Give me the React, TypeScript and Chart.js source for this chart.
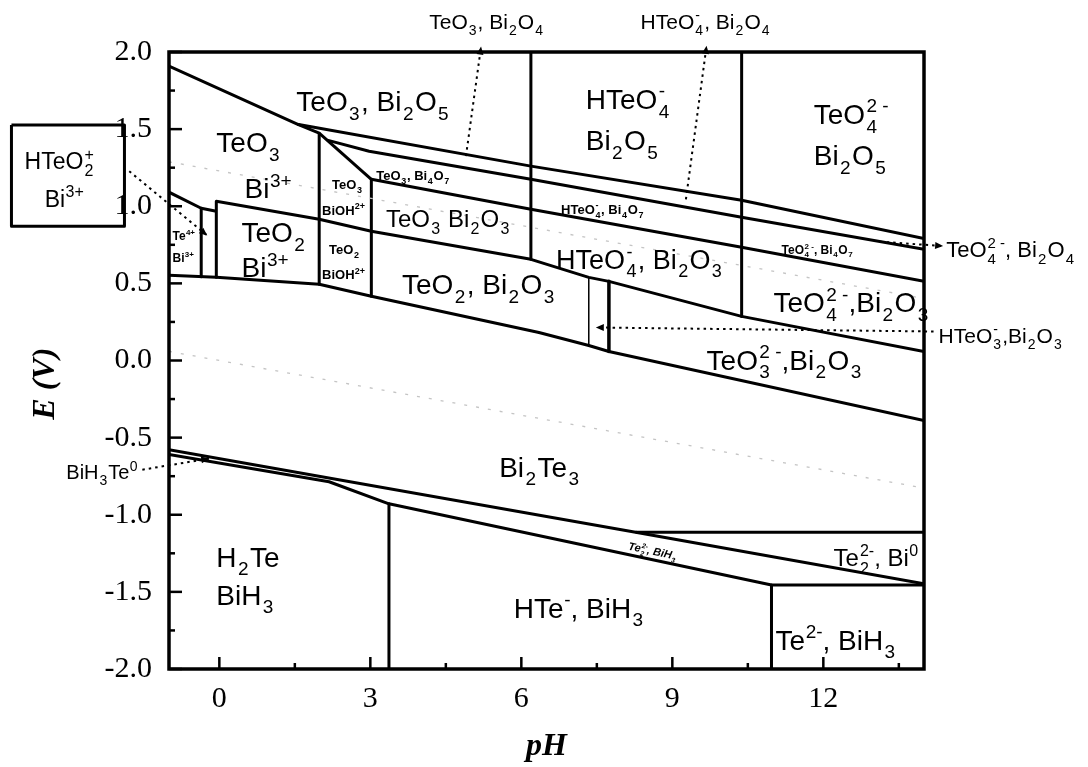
import React, { useEffect, useRef } from 'react';
import { Chart, registerables } from 'chart.js';

Chart.register(...registerables);

// ---------- axes ----------
const phMin = -1;
const phMax = 14;
const eMin = -2;
const eMax = 2;
const phTicks = [0, 1.5, 3, 4.5, 6, 7.5, 9, 10.5, 12, 13.5];
const eTicks = [-2, -1.75, -1.5, -1.25, -1, -0.75, -0.5, -0.25, 0, 0.25, 0.5, 0.75, 1, 1.25, 1.5, 1.75, 2];

// ---------- phase boundaries [pH, E] ----------
const bi5TopLine = [[-1, 1.909], [1.548, 1.532], [1.984, 1.474]];
const bi2o5Bi2o4Line = [[1.548, 1.532], [6.19, 1.26], [10.377, 1.039], [14, 0.79]];
const bi2o4Bi4o7Line = [[2.143, 1.429], [2.976, 1.357], [6.19, 1.175], [10.377, 0.929], [14, 0.721]];
const biohDiagonal = [[1.984, 1.474], [3.02, 1.175]];
const bi4o7Bi2o3Line = [[3.02, 1.175], [6.19, 0.981], [10.377, 0.734], [14, 0.513]];
const te6Te4Line = [[-0.06, 1.032], [1.984, 0.916], [3.02, 0.838], [6.19, 0.656], [7.34, 0.539], [7.74, 0.513], [10.377, 0.286], [14, 0.058]];
const te6Te4LeftLine = [[-1, 1.091], [-0.36, 0.987], [-0.06, 0.968]];
const te4Bi2Te3Line = [[-1, 0.552], [-0.06, 0.539], [1.984, 0.494], [3.02, 0.416], [6.35, 0.182], [7.34, 0.097], [7.74, 0.058], [14, -0.39]];
const bi2Te3LowerLine = [[-1, -0.578], [8.27, -1.113], [14, -1.448]];
const biH3UpperLine = [[-1, -0.61], [2.18, -0.786], [3.37, -0.929], [10.97, -1.455], [14, -1.455]];
const te2Bi0TopLine = [[8.27, -1.113], [14, -1.113]];

const vBiOHLeft = [[1.984, 1.474], [1.984, 0.494]];
const vBiOHRight = [[3.02, 1.175], [3.02, 0.416]];
const vHTeO2 = [[-0.36, 0.987], [-0.36, 0.543]];
const vTeO2 = [[-0.06, 1.032], [-0.06, 0.539]];
const vHTeO4 = [[6.19, 2], [6.19, 0.656]];
const vTeO4 = [[10.377, 2], [10.377, 0.286]];
const vHTeO3Left = [[7.34, 0.539], [7.34, 0.097]];
const vHTeO3Right = [[7.74, 0.513], [7.74, 0.058]];
const vHTe = [[3.37, -0.929], [3.37, -2]];
const vTe2 = [[10.97, -1.455], [10.97, -2]];

// ---------- water stability lines ----------
const oxygenLine = [[-1, 1.288], [14, 0.402]];
const hydrogenLine = [[-1, 0.059], [14, -0.827]];

// ---------- leader lines ----------
const leaderTeO3Bi2O4 = [[4.9, 1.325], [5.2, 2.035]];
const leaderHTeO4Bi2O4 = [[9.27, 1.045], [9.68, 2.04]];
const leaderTeO4Bi2O4 = [[13.13, 0.77], [14.38, 0.742]];
const leaderHTeO3Bi2O3 = [[14.19, 0.188], [7.48, 0.214]];
const leaderBiH3Te = [[-1.53, -0.708], [-0.2, -0.636]];
const leaderHTeO2 = [[-1.79, 1.227], [-0.24, 0.81]];
const boxHTeO2 = [[-4.13, 1.526], [-1.885, 1.526], [-1.885, 0.87], [-4.13, 0.87], [-4.13, 1.526]];

// ---------- labels: text, pH, E (cap centre), size, weight, rotation ----------
const regionLabels: [string, number, number, number, string?, number?][] = [
  ['TeO_3, Bi_2O_5', 1.53, 1.682, 28],
  ['HTeO_4^-', 7.28, 1.695, 28],
  ['Bi_2O_5', 7.28, 1.429, 28],
  ['TeO_4^{2 -}', 11.81, 1.597, 28],
  ['Bi_2O_5', 11.81, 1.331, 28],
  ['TeO_3', -0.06, 1.416, 28],
  ['Bi^{3+}', 0.5, 1.117, 28],
  ['TeO_2', 0.44, 0.831, 28],
  ['Bi^{3+}', 0.44, 0.604, 28],
  ['Te^{4+}', -0.93, 0.812, 12, 'bold'],
  ['Bi^{3+}', -0.93, 0.669, 12, 'bold'],
  ['TeO_3', 2.24, 1.143, 13, 'bold'],
  ['BiOH^{2+}', 2.04, 0.974, 13, 'bold'],
  ['TeO_2', 2.18, 0.721, 13, 'bold'],
  ['BiOH^{2+}', 2.04, 0.558, 13, 'bold'],
  ['TeO_3, Bi_4O_7', 3.12, 1.201, 13, 'bold'],
  ['TeO_3 Bi_2O_3', 3.31, 0.922, 24],
  ['HTeO_4^-, Bi_4O_7', 6.79, 0.981, 13, 'bold'],
  ['HTeO_4^-, Bi_2O_3', 6.69, 0.656, 27],
  ['TeO_2, Bi_2O_3', 3.63, 0.494, 28],
  ['TeO_4^{2 -}, Bi_4O_7', 11.17, 0.721, 12, 'bold'],
  ['TeO_4^{2 -},Bi_2O_3', 11.01, 0.377, 28],
  ['TeO_3^{2 -},Bi_2O_3', 9.68, 0.006, 28],
  ['Bi_2Te_3', 5.56, -0.688, 28],
  ['H_2Te', -0.06, -1.273, 28],
  ['BiH_3', -0.06, -1.519, 28],
  ['HTe^-, BiH_3', 5.85, -1.604, 28],
  ['Te^{2-}, BiH_3', 11.05, -1.812, 28],
  ['Te_2^{2-}, Bi^0', 12.2, -1.279, 24],
  ['Te_2^{2-}, BiH_3', 8.13, -1.2, 11, 'italic bold', 12],
  ['TeO_3, Bi_2O_4', 4.17, 2.201, 21],
  ['HTeO_4^-, Bi_2O_4', 8.37, 2.201, 21],
  ['TeO_4^{2 -}, Bi_2O_4', 14.44, 0.721, 22],
  ['HTeO_3^-,Bi_2O_3', 14.29, 0.162, 21],
  ['BiH_3Te^0', -3.04, -0.721, 20],
  ['HTeO_2^+', -3.87, 1.292, 23],
  ['Bi^{3+}', -3.47, 1.052, 23],
];

type Seg = { text: string; mode: number };
function parseRich(s: string): Seg[] {
  const out: Seg[] = [];
  let buf = '';
  let i = 0;
  const flush = () => {
    if (buf) out.push({ text: buf, mode: 0 });
    buf = '';
  };
  while (i < s.length) {
    const c = s[i];
    if (c === '_' || c === '^') {
      flush();
      let t = '';
      if (s[i + 1] === '{') {
        const j = s.indexOf('}', i + 2);
        t = s.slice(i + 2, j);
        i = j + 1;
      } else {
        t = s[i + 1];
        i += 2;
      }
      out.push({ text: t, mode: c === '_' ? 1 : 2 });
    } else {
      buf += c;
      i++;
    }
  }
  flush();
  return out;
}

function drawRich(ctx: CanvasRenderingContext2D, s: string, px: number, py: number, size: number, weight: string, rot: number) {
  ctx.save();
  ctx.translate(px, py);
  if (rot) ctx.rotate((rot * Math.PI) / 180);
  ctx.translate(0, 0.36 * size);
  ctx.fillStyle = '#000';
  ctx.textBaseline = 'alphabetic';
  ctx.textAlign = 'left';
  const big = `${weight} ${size}px "Liberation Sans", Arial, sans-serif`;
  const small = `${weight} ${Math.round(size * 0.68)}px "Liberation Sans", Arial, sans-serif`;
  let cx = 0;
  let subStart: number | null = null;
  for (const seg of parseRich(s)) {
    if (seg.mode === 0) {
      ctx.font = big;
      ctx.fillText(seg.text, cx, 0);
      cx += ctx.measureText(seg.text).width;
      subStart = null;
    } else if (seg.mode === 1) {
      ctx.font = small;
      const sx = cx + size * 0.05;
      ctx.fillText(seg.text, sx, size * 0.3);
      subStart = sx;
      cx = sx + ctx.measureText(seg.text).width + size * 0.05;
    } else {
      ctx.font = small;
      const sx = subStart !== null ? subStart : cx + size * 0.02;
      ctx.fillText(seg.text, sx, -size * 0.42);
      const end = sx + ctx.measureText(seg.text).width;
      cx = Math.max(cx, end);
      subStart = null;
    }
  }
  ctx.restore();
}

const toPts = (a: number[][]) => a.map(([x, y]) => ({ x, y }));

const arrowLeaders = [leaderTeO3Bi2O4, leaderHTeO4Bi2O4, leaderTeO4Bi2O4, leaderHTeO3Bi2O3, leaderBiH3Te, leaderHTeO2];

const annotPlugin = {
  id: 'pourbaixAnnot',
  afterDatasetsDraw(chart: any) {
    const { ctx, chartArea: a } = chart;
    const xs = chart.scales.x;
    const ys = chart.scales.y;
    ctx.save();
    // frame
    ctx.strokeStyle = '#000';
    ctx.lineWidth = 3.5;
    ctx.strokeRect(a.left, a.top, a.right - a.left, a.bottom - a.top);
    // inward ticks
    ctx.lineWidth = 2.5;
    for (const v of phTicks) {
      const px = xs.getPixelForValue(v);
      const major = Math.abs(v / 3 - Math.round(v / 3)) < 1e-6;
      ctx.beginPath();
      ctx.moveTo(px, a.bottom);
      ctx.lineTo(px, a.bottom - (major ? 12 : 6));
      ctx.stroke();
    }
    for (const v of eTicks) {
      const py = ys.getPixelForValue(v);
      const major = Math.abs(v * 2 - Math.round(v * 2)) < 1e-6;
      ctx.beginPath();
      ctx.moveTo(a.left, py);
      ctx.lineTo(a.left + (major ? 13 : 6), py);
      ctx.stroke();
    }
    // arrow heads
    ctx.fillStyle = '#000';
    for (const L of arrowLeaders) {
      const [p0, p1] = [L[L.length - 2], L[L.length - 1]];
      const x0 = xs.getPixelForValue(p0[0]);
      const y0 = ys.getPixelForValue(p0[1]);
      const x1 = xs.getPixelForValue(p1[0]);
      const y1 = ys.getPixelForValue(p1[1]);
      const ang = Math.atan2(y1 - y0, x1 - x0);
      ctx.save();
      ctx.translate(x1, y1);
      ctx.rotate(ang);
      ctx.beginPath();
      ctx.moveTo(0, 0);
      ctx.lineTo(-8, -3.5);
      ctx.lineTo(-8, 3.5);
      ctx.closePath();
      ctx.fill();
      ctx.restore();
    }
    // labels
    for (const [t, x, y, size, weight, rot] of regionLabels) {
      drawRich(ctx, t, xs.getPixelForValue(x), ys.getPixelForValue(y), size, weight || 'normal', rot || 0);
    }
    // y-axis title
    ctx.font = 'italic bold 32px "Liberation Serif", serif';
    ctx.fillStyle = '#000';
    ctx.textAlign = 'center';
    ctx.textBaseline = 'middle';
    ctx.translate(46, ys.getPixelForValue(-0.15));
    ctx.rotate(-Math.PI / 2);
    ctx.fillText('E (V)', 0, 0);
    ctx.restore();
  },
};

export default function App() {
  const ref = useRef<HTMLCanvasElement | null>(null);
  useEffect(() => {
    if (!ref.current) return;
    const line = (data: number[][], width = 3, extra: any = {}) => ({
      data: toPts(data),
      showLine: true,
      borderColor: '#000',
      borderWidth: width,
      pointRadius: 0,
      fill: false,
      tension: 0,
      borderJoinStyle: 'round',
      ...extra,
    });
    const grey = { borderColor: '#c4c4c4', borderDash: [3, 9] };
    const dotted = { borderDash: [2.5, 4], clip: false };
    const chart = new Chart(ref.current, {
      type: 'scatter',
      data: {
        datasets: [
          line(oxygenLine, 1.3, grey),
          line(hydrogenLine, 1.3, grey),
          line(bi5TopLine),
          line(bi2o5Bi2o4Line),
          line(bi2o4Bi4o7Line),
          line(biohDiagonal),
          line(bi4o7Bi2o3Line),
          line(te6Te4Line),
          line(te6Te4LeftLine),
          line(te4Bi2Te3Line),
          line(bi2Te3LowerLine),
          line(biH3UpperLine),
          line(te2Bi0TopLine),
          line(vBiOHLeft),
          line(vBiOHRight),
          line(vHTeO2),
          line(vTeO2),
          line(vHTeO4),
          line(vTeO4),
          line(vHTeO3Left, 1.5),
          line(vHTeO3Right, 3.5),
          line(vHTe, 3),
          line(vTe2, 3),
          line(leaderTeO3Bi2O4, 2, dotted),
          line(leaderHTeO4Bi2O4, 2, dotted),
          line(leaderTeO4Bi2O4, 2, dotted),
          line(leaderHTeO3Bi2O3, 2, dotted),
          line(leaderBiH3Te, 2, dotted),
          line(leaderHTeO2, 2, dotted),
          line(boxHTeO2, 3, { clip: false }),
        ] as any,
      },
      options: {
        responsive: false,
        animation: false,
        devicePixelRatio: 1,
        layout: { padding: { left: 0, top: 52, right: 164, bottom: 0 } },
        plugins: { legend: { display: false }, tooltip: { enabled: false } },
        scales: {
          x: {
            type: 'linear',
            min: phMin,
            max: phMax,
            afterFit: (s: any) => {
              s.height = 98;
            },
            afterBuildTicks: (s: any) => {
              s.ticks = phTicks.map((v) => ({ value: v }));
            },
            ticks: {
              autoSkip: false,
              maxRotation: 0,
              padding: 12,
              color: '#000',
              font: { family: '"Liberation Serif", serif', size: 30 },
              callback: (v: any) => (Math.abs(v / 3 - Math.round(v / 3)) < 1e-6 ? String(v) : ''),
            },
            grid: { display: false, drawTicks: false },
            border: { display: false },
            title: {
              display: true,
              text: 'pH',
              color: '#000',
              font: { family: '"Liberation Serif", serif', size: 32, style: 'italic', weight: 'bold' },
              padding: { top: 0, bottom: 1 },
            },
          },
          y: {
            type: 'linear',
            min: eMin,
            max: eMax,
            afterFit: (s: any) => {
              s.width = 169;
            },
            afterBuildTicks: (s: any) => {
              s.ticks = eTicks.map((v) => ({ value: v }));
            },
            ticks: {
              autoSkip: false,
              padding: 17,
              color: '#000',
              font: { family: '"Liberation Serif", serif', size: 30 },
              callback: (v: any) => (Math.abs(v * 2 - Math.round(v * 2)) < 1e-6 ? Number(v).toFixed(1) : ''),
            },
            grid: { display: false, drawTicks: false },
            border: { display: false },
          },
        },
      } as any,
      plugins: [annotPlugin],
    });
    return () => chart.destroy();
  }, []);
  return (
    <div style={{ position: 'absolute', left: 0, top: 0, width: 1088, height: 767, background: '#fff' }}>
      <canvas ref={ref} width={1088} height={767} style={{ display: 'block' }} />
    </div>
  );
}
